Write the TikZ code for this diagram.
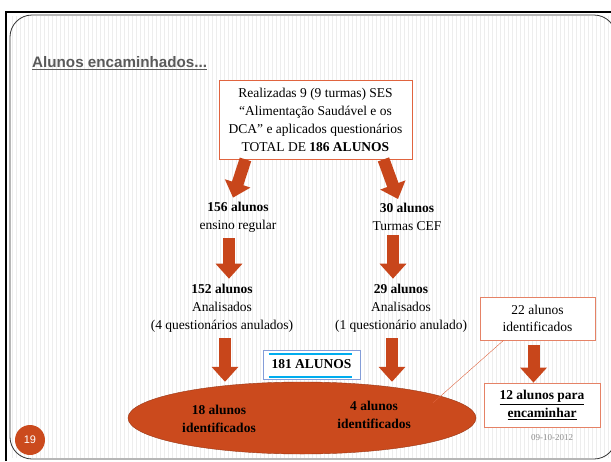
\documentclass[tikz,border=0pt]{standalone}
\usepackage{fontspec}
\setmainfont{Liberation Serif}
\setsansfont{Liberation Sans}
\usetikzlibrary{arrows.meta, shapes.geometric}
\definecolor{seta}{HTML}{C8461B}
\definecolor{borda}{HTML}{E0643F}
\definecolor{bordaclara}{HTML}{E58266}
\definecolor{elipse}{HTML}{CB4A1D}
\definecolor{titulo}{HTML}{5A5A5A}

\begin{document}
\begin{tikzpicture}[x=1pt, y=-1pt,
    caixa/.style={
        draw=borda, thick, fill=white,
        align=center, font=\fontsize{13.5}{18}\selectfont, inner sep=2pt
    },
    texto/.style={align=center, font=\fontsize{13.5}{18}\selectfont, inner sep=0pt},
    negrito/.style={texto, font=\bfseries\fontsize{13.5}{18}\selectfont},
    seta/.style={draw=seta, line width=12pt, -{Triangle[length=15pt, width=26pt]}}
]
\useasboundingbox (0,0) rectangle (611,461);

% Fundo listrado e moldura
\fill[white] (0,0) rectangle (611,461);
\foreach \x in {12,16,...,608}
    \draw[black!7, line width=1pt] (\x,16) -- (\x,458);
\draw[line width=2.5pt] (6,461) -- (6,12) -- (611,12);
\draw[black!80, line width=0.8pt, rounded corners=22pt] (10,15) rectangle (616,459);

% Titulo
\node[anchor=west, inner sep=0pt, text=titulo,
      font=\sffamily\bfseries\fontsize{15.2}{17}\selectfont] (titulo) at (32,63)
    {\underline{Alunos encaminhados...}};

% Caixa superior
\node[caixa, minimum width=193pt, minimum height=79pt] (total) at (315.5,119.5) {
    Realizadas 9 (9 turmas) SES\\
    “Alimentação Saudável e os\\
    DCA” e aplicados questionários\\
    TOTAL DE \textbf{186 ALUNOS}
};

% Ramos
\node[texto] (regular) at (238,217) {\textbf{156 alunos}\\ensino regular};
\node[texto] (cef) at (407,217) {\textbf{30 alunos}\\Turmas CEF};
\node[texto] (ana1) at (222,308) {\textbf{152 alunos}\\Analisados\\(4 questionários anulados)};
\node[texto] (ana2) at (401,308) {\textbf{29 alunos}\\Analisados\\(1 questionário anulado)};

% Elipse final
\node[ellipse, draw=elipse!75!black, fill=elipse, minimum width=348pt,
      minimum height=72pt, inner sep=0pt] (elipse) at (302,418) {};
\node[negrito] (id1) at (219,419) {18 alunos\\identificados};
\node[negrito] (id2) at (374,415) {4 alunos\\identificados};

% Soma
\node[draw=cyan!40!blue!50, fill=white, minimum width=97pt, minimum height=29pt,
      font=\bfseries\fontsize{13.5}{16}\selectfont] (soma) at (311.5,364.5) {181 ALUNOS};
\draw[cyan, line width=1.6pt] ([xshift=6pt,yshift=-4pt]soma.north west) -- ([xshift=-8pt,yshift=-4pt]soma.north east);
\draw[cyan, line width=1.6pt] ([xshift=6pt,yshift=2pt]soma.south west) -- ([xshift=-8pt,yshift=2pt]soma.south east);

% Caixas da direita
\node[caixa, draw=bordaclara, minimum width=115pt, minimum height=43pt,
      font=\fontsize{13.5}{17}\selectfont] (ident) at (537.5,318.5) {22 alunos\\identificados};
\node[caixa, draw=bordaclara, minimum width=116pt, minimum height=44pt,
      font=\bfseries\fontsize{13.5}{18}\selectfont] (encam) at (542,405)
    {\underline{12 alunos para}\\\underline{encaminhar}};

% Numero e data
\node[circle, fill=elipse, minimum size=30pt, inner sep=0pt, text=white,
      font=\sffamily\fontsize{11}{12}\selectfont] (num) at (30,440) {19};
\node[text=black!45, font=\fontsize{9}{10}\selectfont] (data) at (552,438) {09-10-2012};

% Setas
\draw[seta] ([xshift=-70pt]total.south) -- ([xshift=-5pt,yshift=4pt]regular.north);
\draw[seta] ([xshift=68pt]total.south) -- ([xshift=-9pt,yshift=4pt]cef.north);
\draw[seta] ([xshift=-9pt,yshift=-6pt]regular.south) -- ([xshift=-9pt,yshift=5pt]regular.south |- ana1.north);
\draw[seta] ([xshift=-14pt,yshift=-4pt]cef.south) -- ([xshift=-14pt,yshift=5pt]cef.south |- ana2.north);
\draw[seta] ([xshift=3pt,yshift=-6pt]ana1.south) -- ([xshift=3pt]ana1.south |- elipse.north);
\draw[seta] ([xshift=-9pt,yshift=-6pt]ana2.south) -- ([xshift=-9pt]ana2.south |- elipse.north);
\draw[seta] ([xshift=-4pt,yshift=-5pt]ident.south) -- ([xshift=-4pt]ident.south |- encam.north);
\draw[borda, thin] ([xshift=-34pt]ident.south) -- ([xshift=131pt,yshift=-21pt]elipse.north);

\end{tikzpicture}
\end{document}
